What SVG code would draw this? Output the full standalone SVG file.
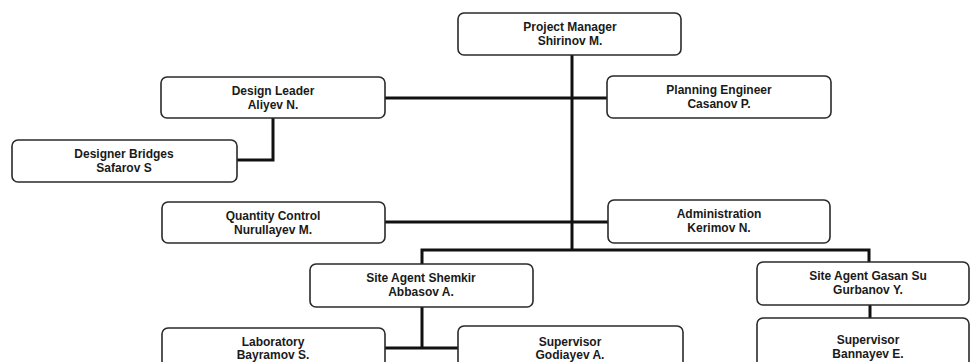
<svg xmlns="http://www.w3.org/2000/svg" width="971" height="362" viewBox="0 0 971 362">
<style>
.box{fill:#fff;stroke:#2a2a2a;stroke-width:1.6}
.t{font-family:"Liberation Sans",Arial,sans-serif;font-weight:bold;font-size:12px;fill:#1a1a1a;text-anchor:middle}
.c{fill:none;stroke:#111;stroke-width:3}
</style>
<rect width="971" height="362" fill="#fff"/>
<g id="connectors">
<path class="c" d="M572,55 V250"/>
<path class="c" d="M385,98 H607"/>
<path class="c" d="M385,222 H608"/>
<path class="c" d="M273,118 V160 H237"/>
<path class="c" d="M422,264 V250 H869 V262"/>
<path class="c" d="M422,307 V348 M385,348 H458"/>
<path class="c" d="M870,305 V318"/>
</g>
<g id="pm"><rect class="box" x="458" y="13" width="223" height="42" rx="6"/><text class="t" x="570" y="31">Project Manager</text><text class="t" x="570" y="45">Shirinov M.</text></g>
<g id="design"><rect class="box" x="161" y="77" width="224" height="41" rx="6"/><text class="t" x="273" y="95">Design Leader</text><text class="t" x="273" y="109">Aliyev N.</text></g>
<g id="planning"><rect class="box" x="607" y="76" width="224" height="42" rx="6"/><text class="t" x="719" y="94">Planning Engineer</text><text class="t" x="719" y="108">Casanov P.</text></g>
<g id="bridges"><rect class="box" x="12" y="140" width="225" height="42" rx="6"/><text class="t" x="124" y="158">Designer Bridges</text><text class="t" x="124" y="172">Safarov S</text></g>
<g id="qc"><rect class="box" x="162" y="202" width="223" height="41" rx="6"/><text class="t" x="273" y="220">Quantity Control</text><text class="t" x="273" y="234">Nurullayev M.</text></g>
<g id="admin"><rect class="box" x="608" y="200" width="222" height="43" rx="6"/><text class="t" x="719" y="218">Administration</text><text class="t" x="719" y="232">Kerimov N.</text></g>
<g id="shemkir"><rect class="box" x="310" y="264" width="223" height="43" rx="6"/><text class="t" x="421" y="282">Site Agent Shemkir</text><text class="t" x="421" y="296">Abbasov A.</text></g>
<g id="gasan"><rect class="box" x="757" y="262" width="212" height="43" rx="6"/><text class="t" x="868" y="280">Site Agent Gasan Su</text><text class="t" x="868" y="294">Gurbanov Y.</text></g>
<g id="lab"><rect class="box" x="162" y="328" width="223" height="50" rx="6"/><text class="t" x="273" y="346">Laboratory</text><text class="t" x="273" y="359">Bayramov S.</text></g>
<g id="sup1"><rect class="box" x="458" y="326" width="225" height="50" rx="6"/><text class="t" x="570" y="346">Supervisor</text><text class="t" x="570" y="359">Godiayev A.</text></g>
<g id="sup2"><rect class="box" x="757" y="318" width="212" height="50" rx="6"/><text class="t" x="868" y="344">Supervisor</text><text class="t" x="868" y="358">Bannayev E.</text></g>
</svg>
